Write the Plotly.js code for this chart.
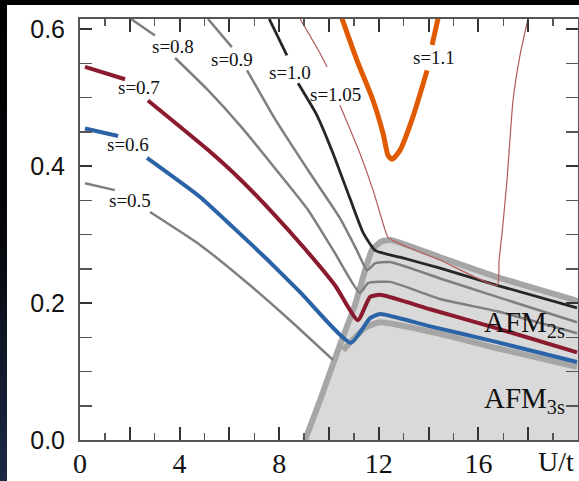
<!DOCTYPE html>
<html>
<head>
<meta charset="utf-8">
<script src="https://cdn.plot.ly/plotly-3.0.1.min.js"></script>
<style>
  html, body { margin:0; padding:0; width:579px; height:481px; overflow:hidden;
    background: linear-gradient(to bottom, #000 0%, #05070c 50%, #1c2a48 100%); }
  #chart { position:absolute; left:7px; top:5px; width:572px; height:476px; background:#fff; }
</style>
</head>
<body>
<div id="chart"></div>
<script>
// ---- data (U/t on x, value on y) ----
const regionX = [9.04, 9.64, 10.44, 11.04, 11.45, 11.73, 12.1, 12.5, 14.46, 16.75, 20];
const regionY = [0.0, 0.058, 0.139, 0.197, 0.248, 0.278, 0.290, 0.292, 0.267, 0.238, 0.203];

const boundX = [10.56, 11.45, 12.05, 14.46, 16.75, 19.96];
const boundY = [0.131, 0.164, 0.172, 0.155, 0.134, 0.107];

const s05X = [0.2, 1.4, null, 2.81, 4.82, 6.83, 8.43, 10.16];
const s05Y = [0.375, 0.365, null, 0.333, 0.285, 0.226, 0.175, 0.117];

const s06X = [0.2, 1.53, null, 2.69, 4.82, 6.14, 7.51, 8.84, 10.88, 11.65, 12.05, 14.06, 16.75, 19.96];
const s06Y = [0.455, 0.444, null, 0.412, 0.355, 0.311, 0.264, 0.216, 0.142, 0.178, 0.184, 0.166, 0.143, 0.114];

const s07X = [0.2, 1.81, null, 2.73, 5.10, 6.43, 7.71, 9.04, 10.24, 11.16, 11.65, 12.05, 14.06, 16.75, 19.96];
const s07Y = [0.545, 0.527, null, 0.496, 0.425, 0.381, 0.333, 0.279, 0.226, 0.175, 0.209, 0.212, 0.191, 0.163, 0.128];

const s08X = [2.05, 3.01, null, 3.82, 5.14, 6.51, 7.83, 9.16, 10.24, 11.24, 11.57, 12.45, 14.46, 16.75, 19.96];
const s08Y = [0.615, 0.591, null, 0.558, 0.511, 0.456, 0.397, 0.336, 0.273, 0.215, 0.229, 0.231, 0.206, 0.188, 0.156];

const s09X = [5.14, 6.10, null, 6.71, 7.83, 9.16, 10.44, 11.12, 11.53, 11.85, 12.45, 14.46, 16.75, 19.96];
const s09Y = [0.615, 0.574, null, 0.540, 0.469, 0.394, 0.324, 0.277, 0.248, 0.258, 0.260, 0.236, 0.209, 0.172];

const s10X = [7.6, 8.31, null, 8.76, 9.52, 10.16, 10.84, 11.37, 11.85, 12.85, 14.46, 16.75, 19.96];
const s10Y = [0.615, 0.562, null, 0.521, 0.474, 0.419, 0.353, 0.303, 0.277, 0.267, 0.251, 0.226, 0.193];

const s105X = [8.84, 9.64, 9.92, null, 10.44, 11.24, 11.77, 12.25, 12.37, 13.13, 14.46, 16.75, 16.83, 16.95, 17.15, 17.39, 17.67, 17.99];
const s105Y = [0.615, 0.565, 0.545, null, 0.489, 0.419, 0.365, 0.307, 0.296, 0.282, 0.263, 0.226, 0.263, 0.302, 0.380, 0.496, 0.562, 0.615];

const s11X = [10.52, 11.12, 11.77, 12.17, 12.37, 12.53, 12.85, 13.37, 13.94, null, 14.14, 14.38];
const s11Y = [0.616, 0.555, 0.496, 0.448, 0.416, 0.410, 0.423, 0.472, 0.540, null, 0.577, 0.616];

const labelText = ['s=0.5', 's=0.6', 's=0.7', 's=0.8', 's=0.9', 's=1.0', 's=1.05', 's=1.1'];
const labelX = [2.01, 1.93, 2.37, 3.73, 6.10, 8.43, 10.28, 14.22];
const labelY = [0.350, 0.432, 0.515, 0.575, 0.556, 0.537, 0.504, 0.559];

const phaseText = ['AFM<sub>2s</sub>', 'AFM<sub>3s</sub>'];
const phaseX = [17.85, 17.85];
const phaseY = [0.170, 0.058];

const xLabelVals = [0, 4, 8, 12, 16];
const xLabelText = ['0', '4', '8', '12', '16'];
const xMidTicks = [2, 6, 10, 14, 18];
const yTickVals = [0, 0.2, 0.4, 0.6];
const yTickText = ['0.0', '0.2', '0.4', '0.6'];

// ---- traces ----
function line(x, y, color, width, smooth) {
  return { x: x, y: y, type: 'scatter', mode: 'lines', connectgaps: false,
           line: { color: color, width: width, shape: 'spline', smoothing: smooth },
           hoverinfo: 'skip', showlegend: false };
}
const traces = [
  { x: regionX, y: regionY, type: 'scatter', mode: 'lines', fill: 'tozeroy',
    fillcolor: '#d9d9d9', line: { color: '#a6a6a6', width: 6, shape: 'spline', smoothing: 0.5 },
    hoverinfo: 'skip', showlegend: false },
  line(boundX, boundY, '#a6a6a6', 6, 0.5),
  line(s05X, s05Y, '#7f7f7f', 2.5, 0.5),
  line(s06X, s06Y, '#2a64a6', 4, 0.5),
  line(s07X, s07Y, '#8a1a2d', 4, 0.5),
  line(s08X, s08Y, '#7f7f7f', 2.5, 0.5),
  line(s09X, s09Y, '#7f7f7f', 2.5, 0.5),
  line(s10X, s10Y, '#262626', 2.8, 0.5),
  line(s105X, s105Y, '#b35a5a', 1.2, 0.5),
  line(s11X, s11Y, '#e05a00', 5, 0.6),
  { x: [null], y: [null], xaxis: 'x2', yaxis: 'y', type: 'scatter', mode: 'lines',
    hoverinfo: 'skip', showlegend: false }
];

const annotations = [];
for (let i = 0; i < labelText.length; i++) {
  annotations.push({ x: labelX[i], y: labelY[i], xref: 'x', yref: 'y', text: labelText[i],
    xanchor: 'center', yanchor: 'middle',
    showarrow: false, font: { family: 'Liberation Serif', size: 19, color: '#111' } });
}
for (let i = 0; i < phaseText.length; i++) {
  annotations.push({ x: phaseX[i], y: phaseY[i], xref: 'x', yref: 'y', text: phaseText[i],
    xanchor: 'center', yanchor: 'middle',
    showarrow: false, font: { family: 'Liberation Serif', size: 29, color: '#111' } });
}
annotations.push({ x: 19.1, y: -0.052, xref: 'x', yref: 'paper', text: 'U/t', showarrow: false,
  xanchor: 'center', yanchor: 'middle',
  font: { family: 'Liberation Serif', size: 28, color: '#111' } });

const layout = {
  width: 572, height: 476,
  margin: { l: 73, r: 1, t: 14, b: 41 },
  paper_bgcolor: '#fff', plot_bgcolor: '#fff',
  showlegend: false,
  xaxis: {
    range: [0, 20], tickmode: 'array', tickvals: xLabelVals, ticktext: xLabelText,
    ticks: 'inside', ticklen: 13, tickwidth: 2, tickcolor: '#333',
    minor: { tickmode: 'linear', tick0: 0, dtick: 1, ticks: 'inside', ticklen: 7, tickwidth: 1.5, tickcolor: '#555' },
    showline: true, linecolor: '#555', linewidth: 2, mirror: 'allticks',
    showgrid: false, zeroline: false,
    tickfont: { family: 'Liberation Serif', size: 28, color: '#111' },
    ticklabelstandoff: -3
  },
  xaxis2: {
    overlaying: 'x', anchor: 'y', side: 'bottom', matches: 'x',
    range: [0, 20], tickmode: 'array', tickvals: xMidTicks, showticklabels: false,
    ticks: 'inside', ticklen: 13, tickwidth: 2, tickcolor: '#333',
    showline: true, linecolor: '#555', linewidth: 2, mirror: 'allticks',
    showgrid: false, zeroline: false
  },
  yaxis: {
    range: [0, 0.615], tickmode: 'array', tickvals: yTickVals, ticktext: yTickText,
    ticks: 'inside', ticklen: 12, tickwidth: 2, tickcolor: '#333',
    minor: { tickmode: 'linear', tick0: 0, dtick: 0.05, ticks: 'inside', ticklen: 7, tickwidth: 1.5, tickcolor: '#555' },
    showline: true, linecolor: '#555', linewidth: 2, mirror: 'allticks',
    showgrid: false, zeroline: false,
    tickfont: { family: 'Liberation Sans', size: 25, color: '#111' },
    ticklabelstandoff: 8
  },
  annotations: annotations
};

Plotly.newPlot('chart', traces, layout, { displayModeBar: false, staticPlot: true });
</script>
</body>
</html>
